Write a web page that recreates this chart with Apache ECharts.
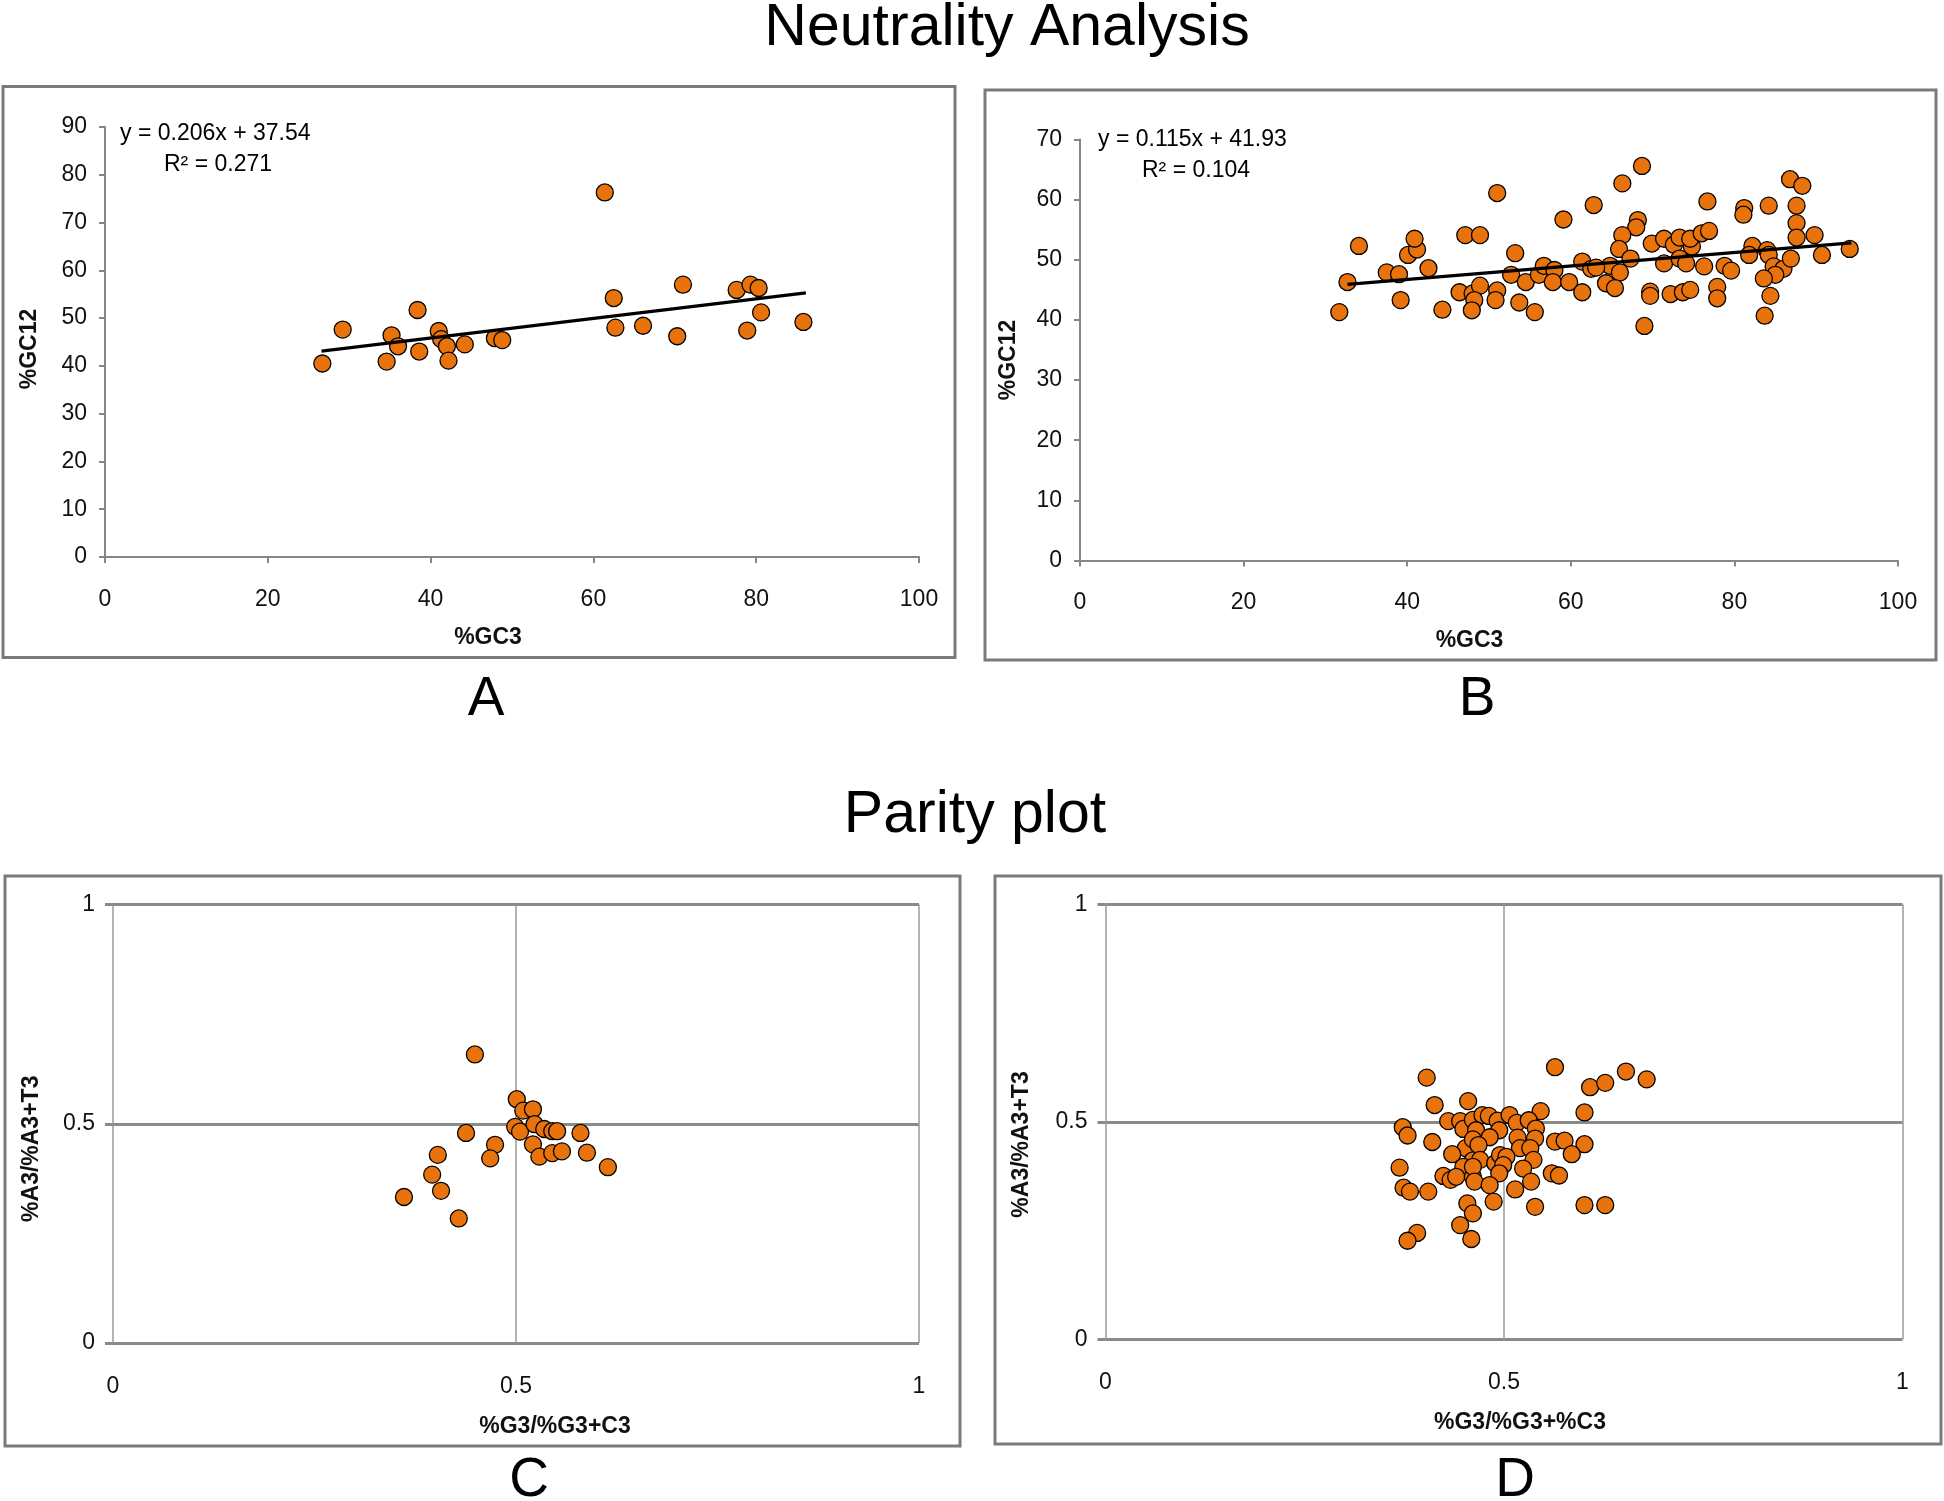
<!DOCTYPE html>
<html>
<head>
<meta charset="utf-8">
<script src="https://cdn.jsdelivr.net/npm/echarts@6/dist/echarts.min.js"></script>
<style>
html,body{margin:0;padding:0;background:#fff;}
#chart{width:1944px;height:1501px;}
</style>
</head>
<body>
<div id="chart"></div>
<script>
// ---------- Data ----------
// Panel A: Neutrality (%GC3 vs %GC12)
const gcA_x = [26.7, 29.2, 34.6, 35.2, 36.0, 38.4, 38.6, 41.0, 41.3, 42.0, 42.2, 44.2, 47.9, 48.8, 61.4, 62.5, 62.7, 66.1, 70.3, 71.0, 77.6, 79.3, 80.3, 78.9, 80.6, 85.8];
const gcA_y = [40.5, 47.6, 40.9, 46.4, 44.1, 51.7, 43.0, 47.3, 45.6, 44.1, 41.1, 44.5, 45.8, 45.4, 76.3, 54.2, 48.0, 48.4, 46.2, 57.0, 55.9, 57.0, 56.3, 47.4, 51.2, 49.2];
const trendA_x = [26.6, 86.1];
const trendA_y = [43.1, 55.3];
const eqA = 'y = 0.206x + 37.54';
const r2A = 'R\u00B2 = 0.271';

// Panel B: Neutrality (%GC3 vs %GC12)
const gcB_x = [31.7, 32.7, 34.1, 37.5, 39.0, 39.2, 40.1, 41.2, 40.9, 42.6, 44.3, 47.1, 48.9, 46.4, 48.0, 48.9, 48.2, 47.9, 51.0, 50.8,
  51.0, 53.2, 52.7, 53.7, 54.5, 55.6, 56.1, 56.7, 58.0, 57.8, 59.8, 59.1, 61.4, 61.4, 62.5, 62.8,
  68.7, 66.3, 76.7, 86.8, 88.3, 81.2, 81.1, 84.2, 87.6, 87.6, 87.6, 89.8, 90.7, 94.1, 68.2, 68.0, 66.3, 65.9, 67.3, 64.8,
  63.1, 66.0, 64.3, 65.4, 69.9, 71.4, 72.6, 73.3, 74.8, 74.6, 76.0, 76.9, 71.4, 73.3, 74.1, 76.3, 69.7, 69.7, 72.2, 73.7,
  74.6, 77.9, 77.9, 78.8, 79.6, 69.0, 82.2, 81.8, 84.0, 84.2, 84.8, 86.0, 86.9, 85.0, 83.6, 84.4, 83.7];
const gcB_y = [41.3, 46.3, 52.3, 47.9, 47.6, 43.3, 50.8, 51.7, 53.5, 48.6, 41.7, 54.1, 54.1, 44.6, 44.4, 45.7, 43.3, 41.6, 44.9, 43.3,
  61.1, 51.1, 47.5, 42.9, 46.3, 41.3, 47.5, 49.0, 48.3, 46.3, 46.3, 56.7, 44.6, 49.7, 48.5, 59.1,
  65.6, 62.7, 59.7, 63.4, 62.3, 58.6, 57.5, 59.0, 59.0, 56.1, 53.7, 54.1, 50.8, 51.8, 56.6, 55.4, 54.1, 51.8, 50.2, 49.0,
  48.7, 47.9, 46.1, 45.3, 52.7, 53.5, 52.5, 53.7, 52.2, 53.5, 54.4, 54.8, 49.4, 50.2, 49.4, 48.9, 44.7, 44.0, 44.3, 44.6,
  45.0, 45.5, 43.6, 49.0, 48.2, 39.0, 52.3, 50.8, 51.6, 50.8, 48.9, 48.5, 50.2, 47.5, 46.9, 44.0, 40.7];
const trendB_x = [32.7, 94.3];
const trendB_y = [45.9, 52.8];
const eqB = 'y = 0.115x + 41.93';
const r2B = 'R\u00B2 = 0.104';

// Panel C: Parity plot
const parC_x = [0.449, 0.501, 0.509, 0.521, 0.499, 0.505, 0.523, 0.535, 0.545, 0.551, 0.580, 0.438, 0.474, 0.521, 0.529, 0.545, 0.557, 0.588, 0.614, 0.468, 0.403, 0.396, 0.407, 0.361, 0.429];
const parC_y = [0.658, 0.556, 0.530, 0.533, 0.493, 0.482, 0.499, 0.488, 0.483, 0.483, 0.479, 0.479, 0.452, 0.453, 0.425, 0.433, 0.437, 0.434, 0.401, 0.421, 0.429, 0.384, 0.347, 0.333, 0.284];

// Panel D: Parity plot
const parD_x = [0.403, 0.413, 0.455, 0.373, 0.379, 0.410, 0.430, 0.445, 0.449, 0.461, 0.452, 0.435, 0.461, 0.449, 0.369, 0.424, 0.433, 0.440, 0.461,
  0.374, 0.382, 0.405, 0.454, 0.461, 0.445, 0.459, 0.391, 0.379,
  0.564, 0.546, 0.473, 0.481, 0.492, 0.507, 0.516, 0.531, 0.540, 0.494, 0.465, 0.482, 0.517, 0.539, 0.461, 0.468, 0.520, 0.533,
  0.564, 0.576, 0.537, 0.470, 0.489, 0.495, 0.503, 0.499, 0.524, 0.461, 0.494, 0.463, 0.482, 0.534, 0.514, 0.560, 0.569, 0.487, 0.539,
  0.608, 0.627, 0.653, 0.679, 0.601, 0.601, 0.585, 0.601, 0.627];
const parD_y = [0.602, 0.539, 0.548, 0.488, 0.469, 0.454, 0.502, 0.502, 0.484, 0.505, 0.440, 0.426, 0.412, 0.397, 0.395, 0.376, 0.367, 0.374, 0.374,
  0.349, 0.340, 0.340, 0.313, 0.290, 0.263, 0.231, 0.245, 0.227,
  0.626, 0.525, 0.516, 0.514, 0.503, 0.516, 0.498, 0.504, 0.485, 0.481, 0.481, 0.465, 0.464, 0.462, 0.460, 0.447, 0.440, 0.440,
  0.455, 0.457, 0.413, 0.413, 0.405, 0.424, 0.420, 0.401, 0.393, 0.397, 0.382, 0.363, 0.355, 0.363, 0.345, 0.382, 0.377, 0.317, 0.305,
  0.580, 0.590, 0.616, 0.598, 0.522, 0.449, 0.426, 0.309, 0.309];

const ticksGC = { A: { min: 0, max: 90, interval: 10 }, B: { min: 0, max: 70, interval: 10 } };
const ticksX = { min: 0, max: 100, interval: 20 };
const ticksPar = { min: 0, max: 1, interval: 0.5 };

// ---------- Helpers ----------
const zip = (xs, ys) => xs.map((v, i) => [v, ys[i]]);
const FONT = "'Liberation Sans', Arial, sans-serif";
const AXIS_GRAY = '#868686';
const ORANGE = '#E8720C';

const labelStyle = { color: '#111', fontSize: 23, fontFamily: FONT };
const nameStyleBase = { color: '#111', fontSize: 23, fontWeight: 'bold', fontFamily: FONT };

function gcXAxis(gridIndex, padShift) {
  return {
    type: 'value', gridIndex, min: ticksX.min, max: ticksX.max, interval: ticksX.interval,
    name: '%GC3', nameLocation: 'middle', nameGap: 69,
    nameTextStyle: Object.assign({}, nameStyleBase, { padding: padShift }),
    axisLine: { show: true, lineStyle: { color: AXIS_GRAY, width: 2 } },
    axisTick: { show: true, length: 6, lineStyle: { color: AXIS_GRAY, width: 2 } },
    axisLabel: Object.assign({ margin: 31 }, labelStyle),
    splitLine: { show: false }
  };
}
function gcYAxis(gridIndex, t, gap, padShift) {
  return {
    type: 'value', gridIndex, min: t.min, max: t.max, interval: t.interval,
    name: '%GC12', nameLocation: 'middle', nameGap: gap, nameRotate: 90,
    nameTextStyle: Object.assign({}, nameStyleBase, { padding: padShift }),
    axisLine: { show: true, lineStyle: { color: AXIS_GRAY, width: 2 } },
    axisTick: { show: true, length: 6, lineStyle: { color: AXIS_GRAY, width: 2 } },
    axisLabel: Object.assign({ margin: 18 }, labelStyle),
    splitLine: { show: false }
  };
}
function parXAxis(gridIndex, name, padShift) {
  return {
    type: 'value', gridIndex, min: ticksPar.min, max: ticksPar.max, interval: ticksPar.interval,
    name, nameLocation: 'middle', nameGap: 72,
    nameTextStyle: Object.assign({}, nameStyleBase, { padding: padShift }),
    axisLine: { show: false },
    axisTick: { show: false },
    axisLabel: Object.assign({ margin: 32 }, labelStyle),
    splitLine: { show: true, lineStyle: { color: '#9a9a9a', width: 1.5 } }
  };
}
function parYAxis(gridIndex, gap, padShift) {
  return {
    type: 'value', gridIndex, min: ticksPar.min, max: ticksPar.max, interval: ticksPar.interval,
    name: '%A3/%A3+T3', nameLocation: 'middle', nameGap: gap, nameRotate: 90,
    nameTextStyle: Object.assign({}, nameStyleBase, { padding: padShift }),
    axisLine: { show: false },
    axisTick: { show: true, length: 8, lineStyle: { color: '#8a8a8a', width: 3 } },
    axisLabel: Object.assign({ margin: 18, showMinLabel: true, showMaxLabel: true }, labelStyle),
    splitLine: { show: true, lineStyle: { color: '#8a8a8a', width: 3 } }
  };
}
function scatter(xi, data) {
  return {
    type: 'scatter', xAxisIndex: xi, yAxisIndex: xi, data, symbol: 'circle', symbolSize: 17,
    itemStyle: { color: ORANGE, borderColor: '#000', borderWidth: 1.3, opacity: 1 }, z: 3
  };
}
function trend(xi, xs, ys) {
  return {
    type: 'line', xAxisIndex: xi, yAxisIndex: xi, data: zip(xs, ys), symbol: 'none',
    lineStyle: { color: '#000', width: 3.2 }, z: 5, silent: true
  };
}
function txt(text, x, y, size, opts) {
  return {
    type: 'text', x, y, z: 10, silent: true,
    style: Object.assign({ text, fill: '#000', font: `${size}px ${FONT}`, textAlign: 'center', textVerticalAlign: 'middle' }, opts || {})
  };
}
function frame(x, y, w, h) {
  return { type: 'rect', shape: { x, y, width: w, height: h }, z: 0, silent: true,
    style: { fill: 'none', stroke: '#7a7a7a', lineWidth: 3 } };
}

const chart = echarts.init(document.getElementById('chart'), null, { renderer: 'canvas' });
const option = {
  backgroundColor: '#fff',
  animation: false,
  grid: [
    { left: 105, top: 127, width: 814, height: 430 },
    { left: 1080, top: 139.5, width: 818, height: 421 },
    { left: 113, top: 904.5, width: 806, height: 438.5 },
    { left: 1105.5, top: 904.5, width: 797, height: 435 }
  ],
  xAxis: [
    gcXAxis(0, [0, 48, 0, 0]),
    gcXAxis(1, [0, 39, 0, 0]),
    parXAxis(2, '%G3/%G3+C3', [0, 0, 0, 78]),
    parXAxis(3, '%G3/%G3+%C3', [0, 0, 0, 32])
  ],
  yAxis: [
    gcYAxis(0, ticksGC.A, 64, [0, 14, 0, 0]),
    gcYAxis(1, ticksGC.B, 60, [0, 20, 0, 0]),
    parYAxis(2, 70, [0, 50, 0, 0]),
    parYAxis(3, 72, [0, 45, 0, 0])
  ],
  series: [
    scatter(0, zip(gcA_x, gcA_y)),
    trend(0, trendA_x, trendA_y),
    scatter(1, zip(gcB_x, gcB_y)),
    trend(1, trendB_x, trendB_y),
    scatter(2, zip(parC_x, parC_y)),
    scatter(3, zip(parD_x, parD_y))
  ],
  graphic: [
    frame(3, 86.5, 952, 571),
    frame(985, 90, 951, 570),
    frame(5, 876, 955, 570),
    frame(995, 876, 946, 568),
    txt('Neutrality Analysis', 1007, 29, 59),
    txt('Parity plot', 975, 816, 59),
    txt('A', 486, 700, 55),
    txt('B', 1477, 700, 55),
    txt('C', 529, 1481, 55),
    txt('D', 1515, 1481, 55),
    txt(eqA, 120, 134, 23, { textAlign: 'left' }),
    txt(r2A, 164, 165, 23, { textAlign: 'left' }),
    txt(eqB, 1098, 140, 23, { textAlign: 'left' }),
    txt(r2B, 1142, 171, 23, { textAlign: 'left' })
  ]
};
chart.setOption(option);
</script>
</body>
</html>
